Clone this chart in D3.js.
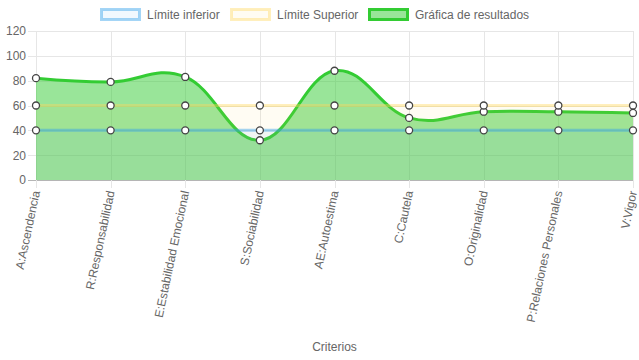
<!DOCTYPE html>
<html>
<head>
<meta charset="utf-8">
<script src="https://cdn.jsdelivr.net/npm/d3@7"></script>
<style>
  body { margin: 0; background: #fff; }
  svg { font-family: "Liberation Sans", Arial, sans-serif; }
</style>
</head>
<body>
<svg id="canvas" width="639" height="360"></svg>
<script>
const criterios = [
  "A:Ascendencia", "R:Responsabilidad", "E:Estabilidad Emocional", "S:Sociabilidad",
  "AE:Autoestima", "C:Cautela", "O:Originalidad", "P:Relaciones Personales", "V:Vigor"
];
const limiteInferior = [40, 40, 40, 40, 40, 40, 40, 40, 40];
const limiteSuperior = [60, 60, 60, 60, 60, 60, 60, 60, 60];
const resultados = [82, 79, 83, 32, 88, 50, 55, 55, 54];
const yTicks = [0, 20, 40, 60, 80, 100, 120];

const series = [
  { name: "Límite inferior", values: limiteInferior, line: "rgba(54,162,235,0.45)", fill: "rgba(54,162,235,0.07)" },
  { name: "Límite Superior", values: limiteSuperior, line: "rgba(255,214,90,0.4)", fill: "rgba(255,214,90,0.07)" },
  { name: "Gráfica de resultados", values: resultados, line: "#33cc33", fill: "rgba(51,204,51,0.5)" }
];

const canvas = d3.select("#canvas");
const chartLeft = 36, chartRight = 633, chartTop = 31, chartBottom = 180;

const x = d3.scalePoint().domain(criterios).range([chartLeft, chartRight]);
const y = d3.scaleLinear().domain([0, 120]).range([chartBottom, chartTop]);

// grid
canvas.append("g")
  .selectAll("line")
  .data(yTicks)
  .enter()
  .append("line")
  .attr("x1", chartLeft - 8).attr("x2", chartRight)
  .attr("y1", (d) => Math.round(y(d)) + 0.5).attr("y2", (d) => Math.round(y(d)) + 0.5)
  .attr("stroke", (d) => d === 0 ? "#b5b5b5" : "#e6e6e6")
  .attr("stroke-width", 1);

canvas.append("g")
  .selectAll("line")
  .data(criterios)
  .enter()
  .append("line")
  .attr("x1", (d) => Math.round(x(d)) + 0.5).attr("x2", (d) => Math.round(x(d)) + 0.5)
  .attr("y1", chartTop).attr("y2", chartBottom + 8)
  .attr("stroke", "#e6e6e6");

// y axis labels
const yAxis = canvas.append("g")
  .attr("transform", "translate(" + chartLeft + ",0)")
  .call(d3.axisLeft(y).tickValues(yTicks).tickSize(0).tickPadding(10));
yAxis.select(".domain").remove();
yAxis.selectAll("text").attr("fill", "#666").style("font-size", "12px");

// x axis labels
const xAxis = canvas.append("g")
  .attr("transform", "translate(0," + chartBottom + ")")
  .call(d3.axisBottom(x).tickSize(0));
xAxis.select(".domain").remove();
xAxis.selectAll("text")
  .attr("fill", "#666")
  .style("font-size", "12px")
  .attr("text-anchor", "end")
  .attr("dy", "0.3em")
  .attr("transform", "translate(0,11) rotate(-78)")
  .attr("x", 0).attr("y", 0);

canvas.append("text")
  .attr("x", (chartLeft + chartRight) / 2)
  .attr("y", 351)
  .attr("text-anchor", "middle")
  .attr("fill", "#666")
  .style("font-size", "12px")
  .text("Criterios");

const curve = d3.curveCardinal.tension(-0.2);
const area = d3.area()
  .x((d, i) => x(criterios[i]))
  .y0(y(0))
  .y1((d) => y(d))
  .curve(curve);
const line = d3.line()
  .x((d, i) => x(criterios[i]))
  .y((d) => y(d))
  .curve(curve);

// draw last dataset first, like Chart.js
const drawOrder = series.slice().reverse();
drawOrder.forEach((s) => {
  canvas.append("path")
    .attr("d", area(s.values))
    .attr("fill", s.fill);
  canvas.append("path")
    .attr("d", line(s.values))
    .attr("fill", "none")
    .attr("stroke", s.line)
    .attr("stroke-width", 3);
});

drawOrder.forEach((s) => {
  canvas.append("g")
    .selectAll("circle")
    .data(s.values)
    .enter()
    .append("circle")
    .attr("cx", (d, i) => x(criterios[i]))
    .attr("cy", (d) => y(d))
    .attr("r", 3.5)
    .attr("fill", "#fff")
    .attr("stroke", "#444")
    .attr("stroke-width", 1.3);
});

// legend
const legendX = [100, 230, 368];
const legend = canvas.append("g")
  .selectAll("g")
  .data(series)
  .enter()
  .append("g")
  .attr("transform", (d, i) => "translate(" + legendX[i] + ",8)");
legend.append("rect")
  .attr("x", 1.5).attr("y", 1.5)
  .attr("width", 38).attr("height", 10)
  .attr("fill", (d) => d.fill)
  .attr("stroke", (d) => d.line)
  .attr("stroke-width", 3);
legend.append("text")
  .attr("x", 47)
  .attr("y", 6.5)
  .attr("dy", "0.35em")
  .attr("fill", "#666")
  .style("font-size", "12px")
  .text((d) => d.name);
</script>
</body>
</html>
